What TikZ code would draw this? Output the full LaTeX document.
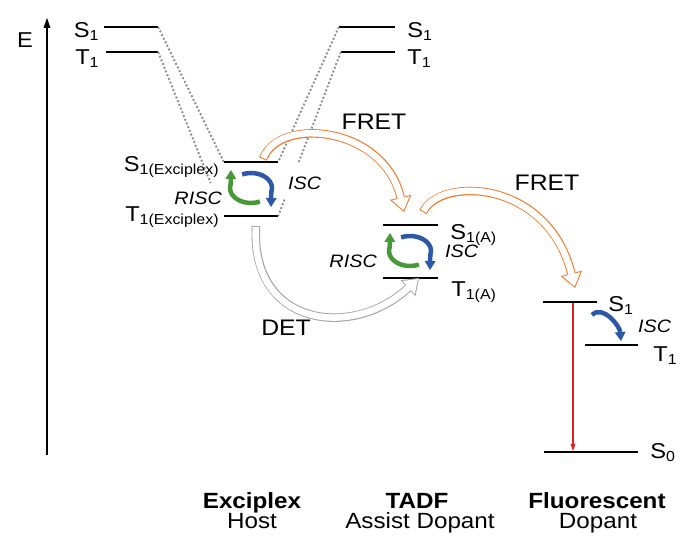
\documentclass[tikz,border=0pt]{standalone}
\usepackage{fontspec}
\setmainfont{Liberation Sans}[FakeStretch=1.1]
\usepackage{tikz}
\usetikzlibrary{arrows.meta}
\usetikzlibrary{positioning}
\usetikzlibrary{calc}
\definecolor{fretOrange}{RGB}{238,122,44}
\definecolor{detGray}{RGB}{165,165,165}
\definecolor{dotGray}{RGB}{140,140,140}
\definecolor{iscBlue}{RGB}{45,88,168}
\definecolor{riscGreen}{RGB}{72,152,56}
\definecolor{emRed}{RGB}{224,32,40}
\tikzstyle{level} = [rectangle, fill=black, minimum width=54pt, minimum height=2.8pt, inner sep=0pt]
\tikzstyle{lab} = [font=\fontsize{21.5}{22}\selectfont, inner sep=0pt]
\tikzstyle{proc} = [font=\fontsize{18}{19}\selectfont\itshape, inner sep=0pt]
\tikzstyle{transfer} = [font=\fontsize{22.5}{23}\selectfont, inner sep=0pt]
\tikzstyle{botlab} = [font=\fontsize{22}{23}\selectfont, inner sep=0pt, anchor=base]
\tikzstyle{corr} = [dotGray, line width=1.9pt, dash pattern=on 1.9pt off 2.1pt]
\tikzstyle{cyc} = [line width=4.5pt, -{Triangle[length=9pt, width=11pt, line width=0pt]}]
\tikzstyle{hollowOut} = [line width=8.5pt, -{Triangle[length=15pt, width=22pt, line width=0pt]}]
\tikzstyle{hollowIn} = [white, line width=6.5pt, shorten <=1pt, shorten >=1.6pt, -{Triangle[length=12.5pt, width=18pt, line width=0pt]}]
\newcommand{\lsub}[1]{\raisebox{-3pt}{\fontsize{14.5}{15}\selectfont #1}}
\newcommand{\hollowarrow}[2]{\draw[hollowOut, #1] #2; \draw[hollowIn] #2;}
\begin{document}
\begin{tikzpicture}[x=1pt, y=-1pt]
\useasboundingbox (0,0) rectangle (686,553);
\coordinate (axBot) at (47,455);
\coordinate (axTop) at (47,18);
\draw[line width=1.8pt, -{Triangle[length=10pt, width=7pt, line width=0pt]}] (axBot) -- (axTop);
\node[lab] (eLab) at (25,40) {E};

\node[level] (lS1) at (131,27) {};
\node[level, minimum width=52pt] (lT1) at (132,52) {};
\node[level, minimum width=56pt] (rS1) at (367,27) {};
\node[level] (rT1) at (368,52) {};
\node[level] (xS1) at (251,162) {};
\node[level] (xT1) at (251,216) {};
\node[level, minimum width=55pt] (aS1) at (410.5,225) {};
\node[level, minimum width=55pt] (aT1) at (410.5,278) {};
\node[level] (fS1) at (570,302) {};
\node[level, minimum width=53pt] (fT1) at (611.5,345) {};
\node[level, minimum width=94pt] (fS0) at (591,452) {};

\draw[corr] (lS1.east) -- (xS1.west);
\draw[corr] (lT1.east) -- ($(lT1.east)!0.8!(xT1.west)$);
\draw[corr] (rS1.west) -- (xS1.east);
\draw[corr] (rT1.west) -- ($(rT1.west)!0.68!(xT1.east)$);
\draw[corr] ($(rT1.west)!0.9!(xT1.east)$) -- (xT1.east);

\coordinate (fret1Tail) at (263,159);
\coordinate (fret1Head) at (404,212);
\coordinate (fret2Tail) at (423,212);
\coordinate (fret2Head) at (575,288);
\coordinate (detTail) at (256,226);
\coordinate (detHead) at (419,278);
\hollowarrow{detGray}{(detTail) .. controls (250,326) and (352,340) .. (detHead)}
\hollowarrow{fretOrange}{(fret1Tail) .. controls (279,116) and (384,126) .. (fret1Head)}
\hollowarrow{fretOrange}{(fret2Tail) .. controls (441,176) and (548,180) .. (fret2Head)}
\node[level] at (xS1) {};

\coordinate (xCyc) at (251,188);
\coordinate (aCyc) at (410,251);
\foreach \c in {xCyc, aCyc} {
  \draw[cyc, riscGreen] ($(\c)+(65:21 and 15)$) arc[start angle=65, end angle=195, x radius=21, y radius=15] -- ($(\c)+(-20,-18)$);
  \draw[cyc, iscBlue] ($(\c)+(245:21 and 15)$) arc[start angle=245, end angle=375, x radius=21, y radius=15] -- ($(\c)+(20,19)$);
}
\coordinate (fIscA) at (592,315);
\coordinate (fIscB) at (621,341);
\draw[cyc, iscBlue] (fIscA) to[out=45, in=95] (fIscB);
\coordinate (emTop) at (573,303);
\coordinate (emBot) at (573,451);
\draw[emRed, line width=1.8pt, -{Triangle[length=7pt, width=5pt, line width=0pt]}] (emTop) -- (emBot);

\node[lab, anchor=base east] (lS1t) at ($(lS1.west)+(-5,11)$) {S\lsub{1}};
\node[lab, anchor=base east] (lT1t) at ($(lT1.west)+(-7,13)$) {T\lsub{1}};
\node[lab, anchor=base west] (rS1t) at ($(rS1.east)+(12,11)$) {S\lsub{1}};
\node[lab, anchor=base west] (rT1t) at ($(rT1.east)+(12,13)$) {T\lsub{1}};
\node[lab, anchor=base east] (xS1t) at ($(xS1.west)+(-5,10)$) {S\lsub{1(Exciplex)}};
\node[lab, anchor=base east] (xT1t) at ($(xT1.west)+(-5,6)$) {T\lsub{1(Exciplex)}};
\node[lab, anchor=base west] (aS1t) at ($(aS1.east)+(12,15)$) {S\lsub{1(A)}};
\node[lab, anchor=base west] (aT1t) at ($(aT1.east)+(13,19)$) {T\lsub{1(A)}};
\node[lab, anchor=base west] (fS1t) at ($(fS1.east)+(11,10)$) {S\lsub{1}};
\node[lab, anchor=base west] (fT1t) at ($(fT1.east)+(15,17)$) {T\lsub{1}};
\node[lab, anchor=base west] (fS0t) at ($(fS0.east)+(12,6)$) {S\lsub{0}};

\node[proc, anchor=base east] (xRisc) at (222,205) {RISC};
\node[proc, anchor=base west] (xIsc) at (288,190) {ISC};
\node[proc, anchor=base east] (aRisc) at (377,268) {RISC};
\node[proc, anchor=base west] (aIsc) at (445,258) {ISC};
\node[proc, anchor=base west] (fIsc) at (638,333) {ISC};

\node[transfer] (fret1Lab) at (374,122) {FRET};
\node[transfer] (fret2Lab) at (547,183) {FRET};
\node[transfer] (detLab) at (286,328) {DET};

\node[botlab] (hostName) at (252,508) {\textbf{Exciplex}};
\node[botlab] (hostRole) at (252,528) {Host};
\node[botlab] (assistName) at (417,508) {\textbf{TADF}};
\node[botlab] (assistRole) at (420,528) {Assist Dopant};
\node[botlab] (dopName) at (597,508) {\textbf{Fluorescent}};
\node[botlab] (dopRole) at (598,528) {Dopant};
\end{tikzpicture}
\end{document}
